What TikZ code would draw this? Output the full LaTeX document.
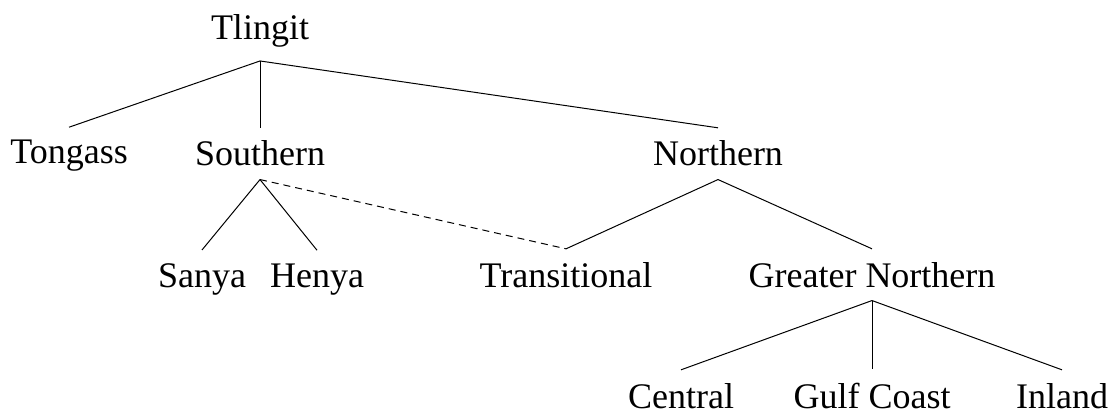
\documentclass[tikz,border=0pt]{standalone}
\usepackage{fontspec}
\setmainfont{Liberation Serif}
\begin{document}
\begin{tikzpicture}[x=1pt,y=-1pt,
  lang/.style={anchor=base,inner xsep=0pt,inner ysep=13pt,font=\fontsize{36}{43}\selectfont},
  edge/.style={line width=1pt},
  dashedge/.style={line width=1pt,dash pattern=on 7pt off 5pt}]
\useasboundingbox (0,0) rectangle (1113,414);
\node[lang] (tl) at (260,40) {Tlingit};
\node[lang] (to) at (69,164) {Tongass};
\node[lang] (so) at (260,166) {Southern};
\node[lang] (no) at (718,166) {Northern};
\node[lang] (sa) at (202,287) {Sanya};
\node[lang] (he) at (317,287) {Henya};
\node[lang] (tr) at (566,287) {Transitional};
\node[lang] (gn) at (872,287) {Greater Northern};
\node[lang] (ce) at (681,408) {Central};
\node[lang] (gc) at (872,408) {Gulf Coast};
\node[lang] (in) at (1062,408) {Inland};
\draw[edge] (tl.south) -- (to.north);
\draw[edge] (tl.south) -- (so.north);
\draw[edge] (tl.south) -- (no.north);
\draw[edge] (so.south) -- (sa.north);
\draw[edge] (so.south) -- (he.north);
\draw[dashedge] (so.south) -- (tr.north);
\draw[edge] (no.south) -- (tr.north);
\draw[edge] (no.south) -- (gn.north);
\draw[edge] (gn.south) -- (ce.north);
\draw[edge] (gn.south) -- (gc.north);
\draw[edge] (gn.south) -- (in.north);
\end{tikzpicture}
\end{document}
